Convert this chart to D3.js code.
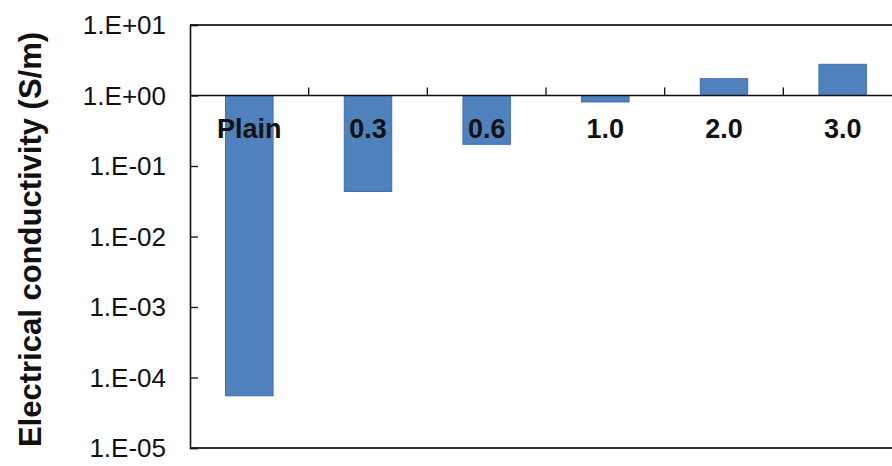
<!DOCTYPE html>
<html>
<head>
<meta charset="utf-8">
<script src="https://cdn.jsdelivr.net/npm/d3@7/dist/d3.min.js"></script>
<style>
html,body{margin:0;padding:0;background:#fff;}
svg{display:block;font-family:"Liberation Sans",Arial,sans-serif;}
</style>
</head>
<body>
<svg id="chart" width="892" height="466"></svg>
<script>
const categories = ["Plain", "0.3", "0.6", "1.0", "2.0", "3.0"];
const conductivity = [5.5e-5, 0.0435, 0.203, 0.81, 1.73, 2.77];
const yTickValues = [1e-5, 1e-4, 1e-3, 1e-2, 1e-1, 1e0, 1e1];
const yTickLabels = ["1.E-05", "1.E-04", "1.E-03", "1.E-02", "1.E-01", "1.E+00", "1.E+01"];
const yTitle = "Electrical conductivity (S/m)";

const svg = d3.select("#chart");
const mLeft = 190, mRight = 902, mTop = 25, mBottom = 448;

const x = d3.scaleBand().domain(categories).range([mLeft, mRight]).paddingInner(0.6).paddingOuter(0.3);
const y = d3.scaleLog().domain([1e-5, 1e1]).range([mBottom, mTop]);
const base = 1;

// bars
svg.append("g").selectAll("rect").data(categories).join("rect")
  .attr("x", d => x(d))
  .attr("width", x.bandwidth())
  .attr("y", (d, i) => Math.min(y(conductivity[i]), y(base)))
  .attr("height", (d, i) => Math.abs(y(conductivity[i]) - y(base)))
  .attr("fill", "#4f81bd")
  .attr("stroke", "#3d6fae")
  .attr("stroke-width", 1);

// frame lines: top and bottom
svg.append("line").attr("x1", mLeft).attr("x2", mRight).attr("y1", mTop).attr("y2", mTop)
  .attr("stroke", "#333").attr("stroke-width", 2);
svg.append("line").attr("x1", mLeft).attr("x2", mRight).attr("y1", mBottom).attr("y2", mBottom)
  .attr("stroke", "#333").attr("stroke-width", 2);

// y axis
const yAxis = d3.axisRight(y).tickValues(yTickValues).tickSize(8).tickFormat("");
const gy = svg.append("g").attr("transform", `translate(${mLeft},0)`).call(yAxis);
gy.select(".domain").attr("stroke", "#111").attr("stroke-width", 1.6);
gy.selectAll(".tick line").attr("stroke", "#111").attr("stroke-width", 1.3);

svg.append("g").selectAll("text").data(yTickValues).join("text")
  .attr("x", 166)
  .attr("y", d => y(d))
  .attr("dy", "0.36em")
  .attr("text-anchor", "end")
  .attr("font-size", 26)
  .attr("fill", "#111")
  .text((d, i) => yTickLabels[i]);

// x axis at y = 1 (ticks between categories, pointing up)
const boundaries = categories.slice(1).map(c => x(c) - x.step() * x.paddingInner() / 2);
svg.append("line").attr("x1", mLeft).attr("x2", mRight).attr("y1", y(base)).attr("y2", y(base))
  .attr("stroke", "#111").attr("stroke-width", 1.6);
svg.append("g").selectAll("line").data(boundaries).join("line")
  .attr("x1", d => d).attr("x2", d => d)
  .attr("y1", y(base)).attr("y2", y(base) - 8)
  .attr("stroke", "#111").attr("stroke-width", 1.3);

// category labels
svg.append("g").selectAll("text").data(categories).join("text")
  .attr("x", d => x(d) + x.bandwidth() / 2)
  .attr("y", y(base) + 42)
  .attr("text-anchor", "middle")
  .attr("font-size", 27)
  .attr("font-weight", "bold")
  .attr("fill", "#111")
  .text(d => d);

// y title
svg.append("text")
  .attr("transform", `translate(41,${(mTop + mBottom) / 2 + 3}) rotate(-90)`)
  .attr("text-anchor", "middle")
  .attr("font-size", 31)
  .attr("font-weight", "bold")
  .attr("fill", "#111")
  .text(yTitle);
</script>
</body>
</html>
